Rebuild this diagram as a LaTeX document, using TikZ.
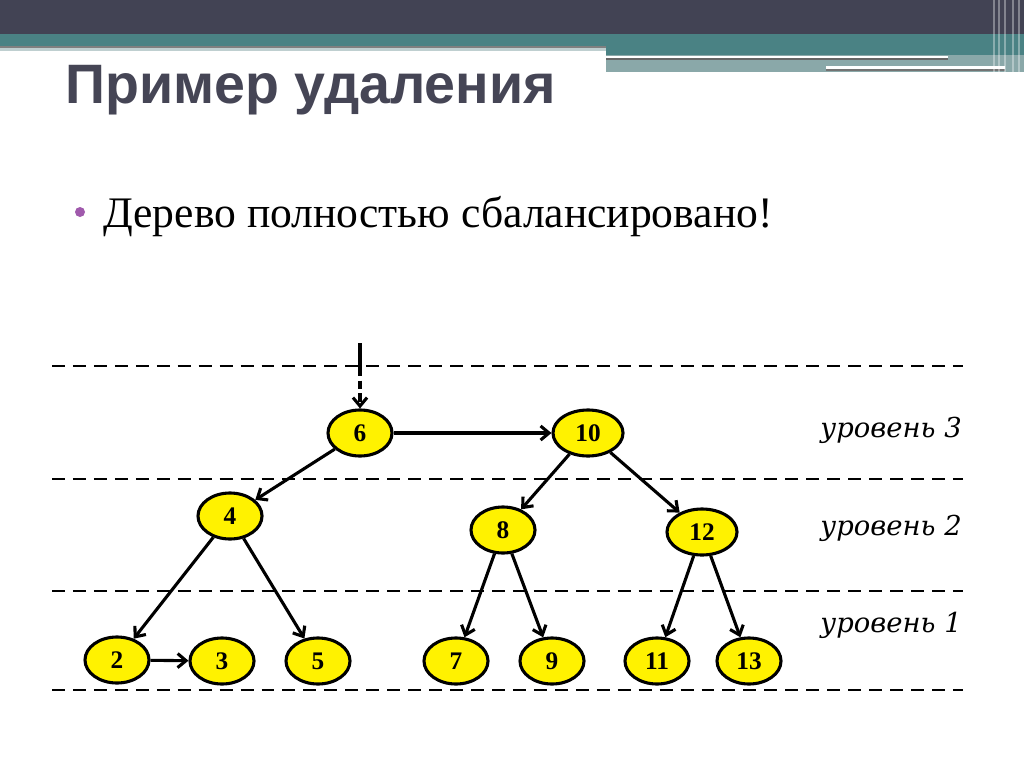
\documentclass[tikz,border=0pt]{standalone}
\usepackage{fontspec}
\setmainfont{Liberation Serif}
\newfontfamily\titlefont{Liberation Sans}
\newfontfamily\levelfont{DejaVu Serif}
\usetikzlibrary{shapes.geometric, arrows.meta}

\definecolor{hdrdark}{HTML}{424354}
\definecolor{hdrteal}{HTML}{4A8284}
\definecolor{hdrgray}{HTML}{8AA8A9}
\definecolor{titlegray}{HTML}{454555}
\definecolor{bulletpurple}{HTML}{A05AAC}

\begin{document}
\begin{tikzpicture}[x=0.025cm, y=-0.025cm, >={Straight Barb[length=6pt, width=10pt]},
  key/.style={ellipse, draw=black, line width=2.2pt, fill=yellow, minimum width=1.6cm, minimum height=1.15cm, inner sep=0pt, font=\fontsize{18}{18}\selectfont\bfseries},
  wide/.style={minimum width=1.75cm},
  link/.style={line width=2.2pt, ->},
  levelline/.style={line width=1.9pt, dash pattern=on 9.2pt off 5.7pt},
  levellabel/.style={anchor=base east, inner sep=0pt, font=\fontsize{19.5}{19.5}\levelfont\itshape}]
\useasboundingbox (0,0) rectangle (1024,768);
% header
\fill[hdrdark] (0,0) rectangle (1024,34);
\fill[hdrteal] (0,34) rectangle (1024,46);
\fill[black!50] (0,46) rectangle (606,48);
\fill[hdrgray!55] (0,48) rectangle (606,51);
\fill[hdrgray] (606,46) rectangle (1024,72);
\fill[hdrteal] (606,46) rectangle (1024,55);
\fill[white] (606,56) rectangle (948,58);
\fill[black!60] (606,58) rectangle (948,60.5);
\fill[white] (826,66) rectangle (1005,69);
\fill[black!55] (826,69) rectangle (1005,71);
\foreach \xx in {993,998,1004,1012,1018}
  \fill[white, opacity=0.35] (\xx,0) rectangle (\xx+1.5,72);
% title and text
\node[anchor=base west, inner sep=0pt, text=titlegray, font=\fontsize{39.5}{39.5}\titlefont\bfseries] (title) at (65,104) {Пример удаления};
\fill[bulletpurple] (80,212) circle (5);
\node[anchor=base west, inner sep=0pt, font=\fontsize{31}{31}\selectfont] (bullettext) at (103,227) {Дерево полностью сбалансировано!};
% level lines
\foreach \yy in {366,479,591,690}
  \draw[levelline] (52,\yy) -- (963,\yy);
\node[levellabel] (lev3) at (962,437) {уровень 3};
\node[levellabel] (lev2) at (962,535) {уровень 2};
\node[levellabel] (lev1) at (962,632) {уровень 1};
% tree
\node[key] (n6) at (360,433) {6};
\node[key, wide] (n10) at (588,433) {10};
\node[key] (n4) at (230,516) {4};
\node[key] (n8) at (503,530) {8};
\node[key, wide] (n12) at (702,532) {12};
\node[key] (n2) at (117,660) {2};
\node[key] (n3) at (222,661) {3};
\node[key] (n5) at (318,661) {5};
\node[key] (n7) at (456,661) {7};
\node[key] (n9) at (552,661) {9};
\node[key] (n11) at (657,661) {11};
\node[key] (n13) at (749,661) {13};
\coordinate (entry) at (360,343);
\coordinate (entrymid) at (360,368);
\draw[line width=2.2pt] (entry) -- (entrymid);
\draw[link, dash pattern=on 6pt off 3pt] (entrymid) -- (n6);
\draw[link] (n6) -- (n10);
\draw[link] (n6) -- (n4);
\draw[link] (n10) -- (n8);
\draw[link] (n10) -- (n12);
\draw[link] (n4) -- (n2);
\draw[link] (n4) -- (n5);
\draw[link] (n2) -- (n3);
\draw[link] (n8) -- (n7);
\draw[link] (n8) -- (n9);
\draw[link] (n12) -- (n11);
\draw[link] (n12) -- (n13);
\end{tikzpicture}
\end{document}
